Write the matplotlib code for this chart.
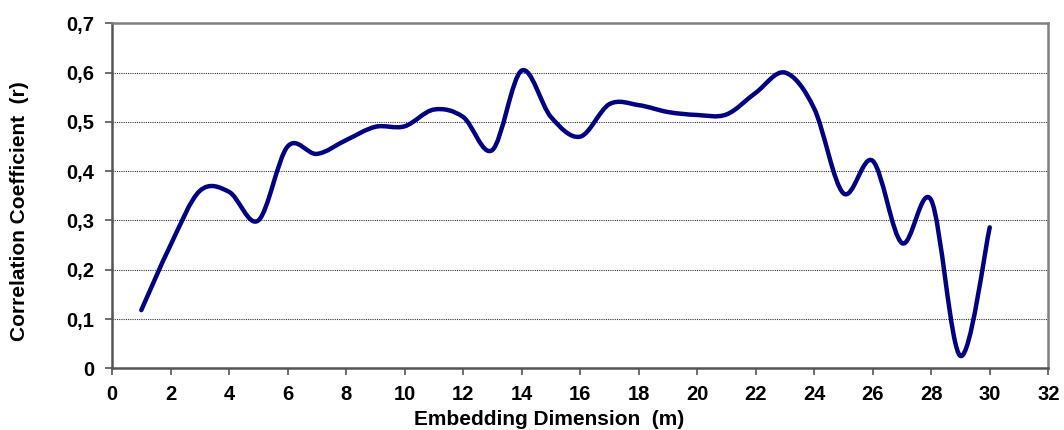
import numpy as np
import matplotlib
matplotlib.use("Agg")
import matplotlib.pyplot as plt
from matplotlib.path import Path
from matplotlib.patches import PathPatch
from matplotlib.ticker import FuncFormatter

# embedding dimension m and correlation coefficient r
dims = list(range(1, 31))
corr = [0.118, 0.25, 0.36, 0.358, 0.30, 0.45, 0.435, 0.463, 0.49, 0.491,
        0.525, 0.51, 0.443, 0.604, 0.51, 0.47, 0.536, 0.534, 0.52, 0.514,
        0.515, 0.559, 0.60, 0.527, 0.355, 0.421, 0.254, 0.341, 0.025, 0.286]

x_ticks = list(range(0, 33, 2))
y_ticks = [0, 0.1, 0.2, 0.3, 0.4, 0.5, 0.6, 0.7]


def smooth_path(xs, ys):
    # Excel-like smoothed line: cubic bezier with catmull-rom tangents
    pts = np.column_stack([xs, ys]).astype(float)
    n = len(pts)
    verts = [pts[0]]
    codes = [Path.MOVETO]
    for i in range(n - 1):
        p0 = pts[i - 1] if i > 0 else pts[i]
        p1 = pts[i]
        p2 = pts[i + 1]
        p3 = pts[i + 2] if i + 2 < n else pts[i + 1]
        c1 = p1 + (p2 - p0) / 6.0
        c2 = p2 - (p3 - p1) / 6.0
        verts += [c1, c2, p2]
        codes += [Path.CURVE4] * 3
    return Path(verts, codes)


plt.rcParams['font.family'] = ['Liberation Sans', 'DejaVu Sans']
plt.rcParams['font.weight'] = 'bold'

fig = plt.figure(figsize=(10.64, 4.30), dpi=100)
ax = fig.add_axes([0.1053, 0.1435, 0.8799, 0.8023])

patch = PathPatch(smooth_path(dims, corr), facecolor='none', edgecolor='#000080',
                  lw=3.2, capstyle='round', joinstyle='round', zorder=3)
ax.add_patch(patch)

ax.set_xlim(0, 32)
ax.set_ylim(0, 0.7)
ax.set_xticks(x_ticks)
ax.set_yticks(y_ticks)
ax.yaxis.set_major_formatter(FuncFormatter(lambda v, p: "0" if v == 0 else f"{v:.1f}".replace('.', ',')))

ax.grid(axis='y', color='#333333', linestyle=(0, (1, 1)), linewidth=0.8)
ax.set_axisbelow(True)

for s in ax.spines.values():
    s.set_color('#808080')
    s.set_linewidth(1.8)
ax.spines['bottom'].set_color('#555555')
ax.spines['left'].set_color('#555555')

ax.tick_params(axis='both', direction='out', length=5, width=1.2, color='#555555',
               labelsize=14.5)
ax.tick_params(axis='y', pad=8)
ax.tick_params(axis='x', pad=7)

ax.set_xlabel("Embedding Dimension  (m)", fontsize=15, fontweight='bold')
ax.set_ylabel("Correlation Coefficient  (r)", fontsize=15, fontweight='bold')
ax.xaxis.set_label_coords(0.467, -0.122)
ax.yaxis.set_label_coords(-0.089, 0.4545)

fig.savefig("out.png", dpi=100)
